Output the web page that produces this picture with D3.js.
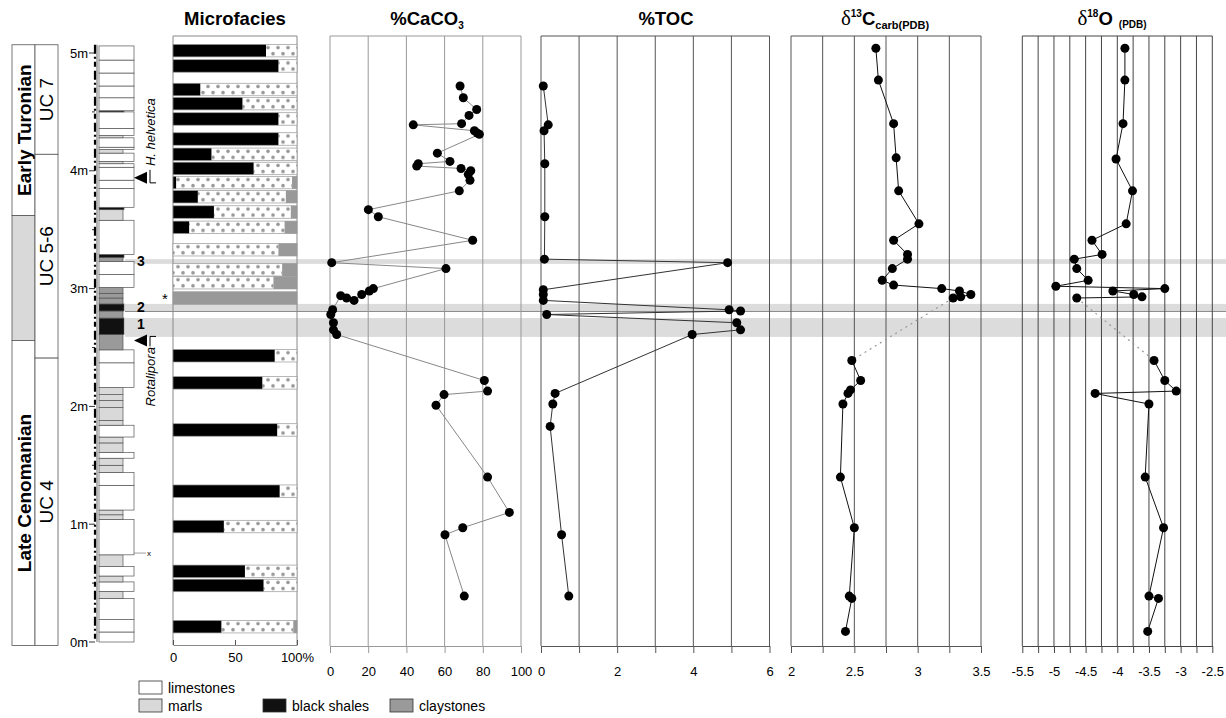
<!DOCTYPE html>
<html>
<head>
<meta charset="utf-8">
<script src="https://cdn.jsdelivr.net/npm/d3@7"></script>
<style>
  body { margin: 0; background: #fff; }
  svg { font-family: "Liberation Sans", Arial, sans-serif; }
</style>
</head>
<body>
<script>
// ---- data (depths in metres) ----
const depthTicks = [0, 1, 2, 3, 4, 5];

// chronostratigraphy / nannofossil zones
const stageNames = ["Early Turonian", "", "Late Cenomanian"];
const stageTop = [5.07, 3.62, 2.56];
const stageBase = [3.62, 2.56, -0.03];
const zoneNames = ["UC 7", "UC 5-6", "UC 4"];
const zoneTop = [5.07, 4.14, 2.41];
const zoneBase = [4.14, 2.41, -0.03];

// lithological log: bed i spans bedBounds[i]..bedBounds[i+1]
const bedBounds = [0, 0.085, 0.19, 0.37, 0.43, 0.51, 0.56, 0.64, 0.74, 1.04, 1.08, 1.12, 1.33, 1.44, 1.50,
  1.56, 1.61, 1.69, 1.74, 1.84, 1.88, 1.99, 2.05, 2.10, 2.16, 2.37, 2.48, 2.61, 2.75, 2.81, 2.87, 2.92,
  2.96, 3.01, 3.12, 3.23, 3.265, 3.29, 3.58, 3.67, 3.69, 3.85, 3.92, 4.03, 4.06, 4.08, 4.15, 4.18, 4.20,
  4.28, 4.30, 4.36, 4.50, 4.51, 4.62, 4.72, 4.83, 4.94, 5.06];
const bedLith = ["L","L","L","M","L","M","L","M","L","M",
  "M","L","L","M","M","L","M","M","L","M",
  "M","M","M","M","L","L","C","B","C","B",
  "C","C","C","L","L","C","B","L","M","B",
  "L","L","L","L","M","L","M","L","L","M",
  "L","L","B","L","L","L","L","L"];

// marker levels 1-3
const bandTop = [3.25, 2.87, 2.75];
const bandBase = [3.21, 2.81, 2.59];
const bandLabel = ["3", "2", "1"];

// microfacies (% black shale, % claystone; remainder = carbonate)
const mfDepth = [5.02, 4.89, 4.69, 4.57, 4.44, 4.27, 4.14, 4.02, 3.90, 3.78, 3.65, 3.52, 3.33, 3.16, 3.05, 2.92,
  2.43, 2.20, 1.80, 1.28, 0.98, 0.60, 0.48, 0.13];
const mfBlack = [75, 85, 22, 56, 85, 85, 31, 65, 2.5, 20, 33, 13, 0, 0, 0, 0, 82, 72, 84, 86, 41, 58, 73, 39];
const mfClay = [0, 0, 0, 0, 0, 0, 0, 0, 4, 9, 5, 10, 15, 12, 19, 100, 0, 0, 0, 0, 0, 0, 0, 3];

// %CaCO3
const caDepth = [4.72, 4.62, 4.52, 4.47, 4.40, 4.39, 4.34, 4.32, 4.31, 4.15, 4.08, 4.06, 4.04, 4.02, 4.00,
  3.97, 3.92, 3.83, 3.67, 3.61, 3.41, 3.22, 3.17, 3.00, 2.98, 2.95, 2.90, 2.92, 2.94, 2.82, 2.78, 2.71,
  2.65, 2.61, 2.22, 2.13, 2.10, 2.01, 1.40, 1.10, 0.97, 0.91, 0.39];
const caVal = [68.1, 69.8, 76.8, 72.8, 68.9, 43.6, 75.6, 77.1, 78.2, 56.2, 62.8, 46.2, 45.4, 68.6, 73.7,
  72.4, 73.3, 67.7, 20.1, 25.3, 74.7, 0.9, 60.7, 22.7, 20.6, 16.6, 12.6, 8.7, 5.6, 1.4, 0.4, 1.8,
  1.8, 3.5, 80.8, 82.5, 59.7, 55.5, 82.5, 93.9, 69.5, 60.2, 70.3];

// %TOC
const tocDepth = [4.72, 4.39, 4.34, 4.06, 3.61, 3.25, 3.22, 2.99, 2.95, 2.90, 2.82, 2.81, 2.78, 2.71, 2.65,
  2.61, 2.11, 2.02, 1.83, 0.91, 0.39];
const tocVal = [0.06, 0.19, 0.08, 0.10, 0.10, 0.09, 4.90, 0.06, 0.06, 0.06, 4.94, 5.24, 0.15, 5.14, 5.24,
  3.97, 0.37, 0.31, 0.24, 0.54, 0.73];

// d13C carb; points before index c13Break are joined by a solid line, the gap is dashed
const c13Depth = [5.04, 4.77, 4.40, 4.11, 3.83, 3.55, 3.41, 3.29, 3.25, 3.17, 3.07, 3.03, 3.00, 2.98, 2.95,
  2.93, 2.92, 2.39, 2.22, 2.14, 2.11, 2.02, 1.40, 0.97, 0.39, 0.37, 0.09];
const c13Val = [2.67, 2.69, 2.81, 2.83, 2.85, 3.01, 2.81, 2.92, 2.92, 2.80, 2.72, 2.81, 3.19, 3.33, 3.42,
  3.34, 3.28, 2.48, 2.55, 2.47, 2.45, 2.41, 2.39, 2.50, 2.46, 2.48, 2.43];
const c13Break = 17;

// d18O
const o18Depth = [5.04, 4.77, 4.40, 4.10, 3.83, 3.55, 3.41, 3.29, 3.25, 3.17, 3.07, 3.02, 3.00, 2.98, 2.95,
  2.93, 2.92, 2.39, 2.22, 2.13, 2.11, 2.02, 1.40, 0.97, 0.39, 0.37, 0.09];
const o18Val = [-3.88, -3.88, -3.91, -4.02, -3.76, -3.86, -4.40, -4.24, -4.68, -4.64, -4.46, -4.97, -3.25,
  -4.07, -3.74, -3.61, -4.64, -3.42, -3.25, -3.07, -4.35, -3.50, -3.56, -3.27, -3.50, -3.35, -3.52];
const o18Break = 17;

// axis ticks
const caGrid = [0, 20, 40, 60, 80, 100], caLabels = [0, 20, 40, 60, 80, 100];
const tocGrid = [0, 1, 2, 3, 4, 5, 6], tocLabels = [0, 2, 4, 6];
const c13Grid = [2, 2.25, 2.5, 2.75, 3, 3.25, 3.5], c13Labels = [2, 2.5, 3, 3.5];
const o18Grid = [-5.5, -5.25, -5, -4.75, -4.5, -4.25, -4, -3.75, -3.5, -3.25, -3, -2.75, -2.5];
const o18Labels = [-5.5, -5, -4.5, -4, -3.5, -3, -2.5];

const legendNames = ["limestones", "marls", "black shales", "claystones"];
const legendLith = ["L", "M", "B", "C"];

// ---- drawing ----
const W = 1226, H = 718;
const plotTop = 36, plotBot = 646;
const lithFill = {L: "#fff", M: "#d9d9d9", C: "#9a9a9a", B: "#111"};
const lithWidth = {L: 35, M: 24, C: 24, B: 25};

const svg = d3.select("body").append("svg").attr("width", W).attr("height", H);
svg.append("rect").attr("width", W).attr("height", H).attr("fill", "#fff");
const defs = svg.append("defs");

const y = d3.scaleLinear().domain([0, 5]).range([642, 53]);

// marker bands (behind everything)
bandTop.forEach(function(t, i) {
  svg.append("rect")
    .attr("x", 125).attr("width", W - 125)
    .attr("y", y(t)).attr("height", y(bandBase[i]) - y(t))
    .attr("fill", "#dcdcdc");
});
svg.append("line")
  .attr("x1", 125).attr("x2", W)
  .attr("y1", y(bandBase[1]) + 0.5).attr("y2", y(bandBase[1]) + 0.5)
  .attr("stroke", "#8a8a8a").attr("stroke-width", 1);

// stage / zone columns
const colX0 = 12, colXm = 35, colX1 = 58;
stageNames.forEach(function(n, i) {
  svg.append("rect").attr("x", colX0).attr("width", colXm - colX0)
    .attr("y", y(stageTop[i])).attr("height", y(stageBase[i]) - y(stageTop[i]))
    .attr("fill", n === "" ? "#d9d9d9" : "#fff").attr("stroke", "#555").attr("stroke-width", 0.8);
  if (n) {
    const cy = (y(stageTop[i]) + y(stageBase[i])) / 2;
    svg.append("text").attr("transform", "translate(" + ((colX0 + colXm) / 2 + 1) + "," + cy + ") rotate(-90)")
      .attr("text-anchor", "middle").attr("dominant-baseline", "central")
      .attr("font-size", 19).attr("font-weight", "bold").text(n);
  }
});
zoneNames.forEach(function(n, i) {
  svg.append("rect").attr("x", colXm).attr("width", colX1 - colXm)
    .attr("y", y(zoneTop[i])).attr("height", y(zoneBase[i]) - y(zoneTop[i]))
    .attr("fill", "#fff").attr("stroke", "#555").attr("stroke-width", 0.8);
  const cy = (y(zoneTop[i]) + y(zoneBase[i])) / 2;
  svg.append("text").attr("transform", "translate(" + ((colXm + colX1) / 2) + "," + cy + ") rotate(-90)")
    .attr("text-anchor", "middle").attr("dominant-baseline", "central")
    .attr("font-size", 19).text(n);
});

// depth axis
const axX = 95;
svg.append("line").attr("x1", axX + 2).attr("x2", axX + 2).attr("y1", y(5.07)).attr("y2", y(0))
  .attr("stroke", "#000").attr("stroke-width", 0.6);
svg.append("line").attr("x1", axX).attr("x2", axX).attr("y1", y(5.07)).attr("y2", y(0))
  .attr("stroke", "#000").attr("stroke-width", 2.2).attr("stroke-dasharray", "9,3,2,3,5,4");
depthTicks.forEach(function(d) {
  svg.append("line").attr("x1", axX - 6).attr("x2", axX).attr("y1", y(d)).attr("y2", y(d))
    .attr("stroke", "#000").attr("stroke-width", 0.8);
  svg.append("text").attr("x", axX - 7).attr("y", y(d)).attr("dy", "0.35em")
    .attr("text-anchor", "end").attr("font-size", 13).text(d + "m");
  if (d < 5) {
    svg.append("line").attr("x1", axX - 3).attr("x2", axX).attr("y1", y(d + 0.5)).attr("y2", y(d + 0.5))
      .attr("stroke", "#000").attr("stroke-width", 0.8);
  }
});

// lithological log
const logX = 99;
bedLith.forEach(function(l, i) {
  svg.append("rect").attr("x", logX).attr("width", lithWidth[l])
    .attr("y", y(bedBounds[i + 1])).attr("height", y(bedBounds[i]) - y(bedBounds[i + 1]))
    .attr("fill", lithFill[l]).attr("stroke", "#555").attr("stroke-width", 0.7);
});

// band labels
bandLabel.forEach(function(t, i) {
  svg.append("text").attr("x", 141).attr("y", (y(bandTop[i]) + y(bandBase[i])) / 2 - (i === 2 ? 3 : 0))
    .attr("dy", "0.35em").attr("text-anchor", "middle")
    .attr("font-size", 14).attr("font-weight", "bold").text(t);
});
svg.append("text").attr("x", 165).attr("y", y(2.92) + 6).attr("text-anchor", "middle")
  .attr("font-size", 15).text("*");

// bioevents
function bioEvent(depth, name, textDepth, up) {
  const yy = y(depth);
  svg.append("path").attr("d", "M134," + yy + " L147," + (yy - 6) + " L147," + (yy + 6) + " Z").attr("fill", "#000");
  if (up) {
    svg.append("path").attr("d", "M150," + (yy + 6) + " L150," + (yy - 4) + " L156," + (yy - 4))
      .attr("fill", "none").attr("stroke", "#000").attr("stroke-width", 1);
  } else {
    svg.append("path").attr("d", "M150," + (yy - 8) + " L150," + (yy + 5) + " L156," + (yy + 5))
      .attr("fill", "none").attr("stroke", "#000").attr("stroke-width", 1);
  }
  svg.append("text").attr("transform", "translate(155," + y(textDepth) + ") rotate(-90)")
    .attr("font-size", 13).attr("font-style", "italic").text(name);
}
bioEvent(3.94, "H. helvetica", 4.04, false);
bioEvent(2.56, "Rotalipora", 2.00, true);
svg.append("line").attr("x1", 134).attr("x2", 146).attr("y1", y(0.755)).attr("y2", y(0.755))
  .attr("stroke", "#777").attr("stroke-width", 0.7);
svg.append("text").attr("x", 147).attr("y", y(0.755) + 3).attr("font-size", 8).text("x");

// ---- microfacies ----
const xMf = d3.scaleLinear().domain([0, 100]).range([173, 297]);
const barH = 12.5;
svg.append("line").attr("x1", xMf(0)).attr("x2", xMf(100)).attr("y1", plotTop).attr("y2", plotTop)
  .attr("stroke", "#888");
[0, 100].forEach(function(v) {
  svg.append("line").attr("x1", xMf(v)).attr("x2", xMf(v)).attr("y1", plotTop).attr("y2", 645)
    .attr("stroke", "#888");
});
mfDepth.forEach(function(d, i) {
  const top = y(d) - barH / 2;
  const pid = "dots" + i;
  // staggered grey dots, two rows per bar
  const p = defs.append("pattern").attr("id", pid).attr("patternUnits", "userSpaceOnUse")
    .attr("x", xMf(0)).attr("y", top).attr("width", 10).attr("height", barH);
  p.append("rect").attr("width", 10).attr("height", barH).attr("fill", "#fff");
  p.append("circle").attr("cx", 5).attr("cy", 3.2).attr("r", 1.8).attr("fill", "#999");
  p.append("circle").attr("cx", 0).attr("cy", 9.3).attr("r", 1.8).attr("fill", "#999");
  p.append("circle").attr("cx", 10).attr("cy", 9.3).attr("r", 1.8).attr("fill", "#999");
  const b = mfBlack[i], c = mfClay[i];
  const g = svg.append("g");
  g.append("rect").attr("x", xMf(b)).attr("width", xMf(100 - c) - xMf(b))
    .attr("y", top).attr("height", barH).attr("fill", "url(#" + pid + ")");
  if (b > 0) g.append("rect").attr("x", xMf(0)).attr("width", xMf(b) - xMf(0))
    .attr("y", top).attr("height", barH).attr("fill", "#000");
  if (c > 0) g.append("rect").attr("x", xMf(100 - c)).attr("width", xMf(100) - xMf(100 - c))
    .attr("y", top).attr("height", barH).attr("fill", "#999");
  g.append("rect").attr("x", xMf(0)).attr("width", xMf(100) - xMf(0))
    .attr("y", top).attr("height", barH).attr("fill", "none").attr("stroke", "#999").attr("stroke-width", 0.7);
});
svg.append("g").attr("transform", "translate(0,645)")
  .call(d3.axisBottom(xMf).tickValues([0, 50, 100]).tickSize(-5).tickSizeOuter(0).tickPadding(8)
    .tickFormat(function(d) { return d === 100 ? "100%" : d; }))
  .call(function(a) {
    a.select(".domain").attr("stroke", "#888");
    a.selectAll(".tick line").attr("stroke", "#555");
    a.selectAll("text").attr("font-size", 13).attr("font-family", "Liberation Sans, Arial, sans-serif");
  });

// ---- data panels ----
function panel(x, grid, labels, gridColor) {
  const g = svg.append("g");
  g.append("line").attr("x1", x.range()[0]).attr("x2", x.range()[1]).attr("y1", plotTop).attr("y2", plotTop)
    .attr("stroke", gridColor);
  grid.forEach(function(v) {
    g.append("line").attr("x1", x(v)).attr("x2", x(v)).attr("y1", plotTop).attr("y2", plotBot)
      .attr("stroke", gridColor).attr("stroke-width", 1);
  });
  g.append("g").attr("transform", "translate(0," + plotBot + ")")
    .call(d3.axisBottom(x).tickValues(grid).tickSize(7).tickSizeOuter(0).tickPadding(14)
      .tickFormat(function(d) { return labels.indexOf(d) >= 0 ? String(d) : ""; }))
    .call(function(a) {
      a.select(".domain").attr("stroke", gridColor);
      a.selectAll(".tick line").attr("stroke", gridColor);
      a.selectAll("text").attr("font-size", 13).attr("font-family", "Liberation Sans, Arial, sans-serif");
    });
  return g;
}
function series(x, depths, vals, lineColor, brk) {
  const pts = depths.map(function(d, i) { return {d: d, v: vals[i]}; });
  const line = d3.line().x(function(p) { return x(p.v); }).y(function(p) { return y(p.d); });
  if (brk) {
    svg.append("path").datum(pts.slice(0, brk)).attr("d", line)
      .attr("fill", "none").attr("stroke", lineColor).attr("stroke-width", 1);
    svg.append("path").datum(pts.slice(brk - 1, brk + 1)).attr("d", line)
      .attr("fill", "none").attr("stroke", "#999").attr("stroke-width", 1.2).attr("stroke-dasharray", "2,4");
    svg.append("path").datum(pts.slice(brk)).attr("d", line)
      .attr("fill", "none").attr("stroke", lineColor).attr("stroke-width", 1);
  } else {
    svg.append("path").datum(pts).attr("d", line)
      .attr("fill", "none").attr("stroke", lineColor).attr("stroke-width", 1);
  }
  svg.append("g").selectAll("circle").data(pts).enter().append("circle")
    .attr("cx", function(p) { return x(p.v); }).attr("cy", function(p) { return y(p.d); })
    .attr("r", 4.5).attr("fill", "#000");
}

const xCa = d3.scaleLinear().domain([0, 100]).range([330, 521]);
const xToc = d3.scaleLinear().domain([0, 6]).range([541, 769.5]);
const xC13 = d3.scaleLinear().domain([2, 3.5]).range([791, 981]);
const xO18 = d3.scaleLinear().domain([-5.5, -2.5]).range([1022.3, 1212.3]);

panel(xCa, caGrid, caLabels, "#999");
panel(xToc, tocGrid, tocLabels, "#555");
panel(xC13, c13Grid, c13Labels, "#555");
panel(xO18, o18Grid, o18Labels, "#444");

series(xCa, caDepth, caVal, "#888", 0);
series(xToc, tocDepth, tocVal, "#333", 0);
series(xC13, c13Depth, c13Val, "#111", c13Break);
series(xO18, o18Depth, o18Val, "#111", o18Break);

// ---- titles ----
const tY = 25;
svg.append("text").attr("x", 235).attr("y", tY).attr("text-anchor", "middle")
  .attr("font-size", 18.5).attr("font-weight", "bold").text("Microfacies");
const tCa = svg.append("text").attr("x", 427).attr("y", tY).attr("text-anchor", "middle")
  .attr("font-size", 18.5).attr("font-weight", "bold");
tCa.append("tspan").text("%CaCO");
tCa.append("tspan").attr("font-size", 10).attr("dy", 4).text("3");
svg.append("text").attr("x", 666).attr("y", tY).attr("text-anchor", "middle")
  .attr("font-size", 18.5).attr("font-weight", "bold").text("%TOC");
const tC = svg.append("text").attr("x", 885).attr("y", tY).attr("text-anchor", "middle")
  .attr("font-size", 18.5).attr("font-weight", "bold");
tC.append("tspan").attr("font-family", "Liberation Serif, serif").attr("font-weight", "normal")
  .attr("font-size", 21).text("δ");
tC.append("tspan").attr("font-size", 10).attr("dy", -8).text("13");
tC.append("tspan").attr("dy", 8).text("C");
tC.append("tspan").attr("font-size", 11).attr("dy", 4).text("carb(PDB)");
const tO = svg.append("text").attr("x", 1112).attr("y", tY).attr("text-anchor", "middle")
  .attr("font-size", 18.5).attr("font-weight", "bold");
tO.append("tspan").attr("font-family", "Liberation Serif, serif").attr("font-weight", "normal")
  .attr("font-size", 21).text("δ");
tO.append("tspan").attr("font-size", 10).attr("dy", -8).text("18");
tO.append("tspan").attr("dy", 8).text("O");
tO.append("tspan").attr("font-size", 10).attr("dy", 3).attr("dx", 6).text("(PDB)");

// ---- legend ----
const legX = [139, 139, 263, 390];
const legY = [681, 699, 699, 699];
legendNames.forEach(function(n, i) {
  svg.append("rect").attr("x", legX[i]).attr("y", legY[i]).attr("width", 23).attr("height", 13)
    .attr("fill", lithFill[legendLith[i]]).attr("stroke", "#333").attr("stroke-width", 0.8);
  svg.append("text").attr("x", legX[i] + 29).attr("y", legY[i] + 7).attr("dy", "0.35em")
    .attr("font-size", 14).text(n);
});
</script>
</body>
</html>
